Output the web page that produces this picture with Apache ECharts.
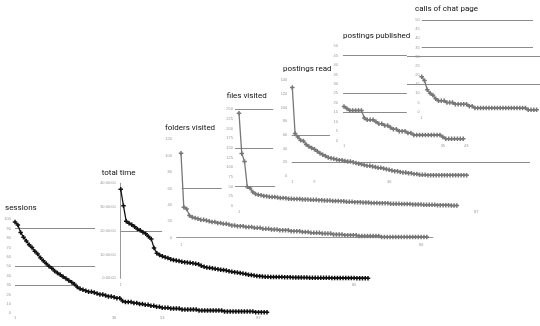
<!DOCTYPE html>
<html><head><meta charset="utf-8">
<script src="https://cdn.jsdelivr.net/npm/echarts@6/dist/echarts.min.js"></script>
<style>html,body{margin:0;padding:0;background:#fff}#c{width:540px;height:326px}</style>
</head><body><div id="c"></div>
<script>
// ---- data ----
const chartTitles = ['sessions','total time','folders visited','files visited','postings read','postings published','calls of chat page'];
const sessionsValues = [97,94,86,81,77,73,70,66,63,59,56,53,50,48,45,43,41,39,37,35,33,31,28,26,25,24,23,23,22,21,20,20,19,18,18,17,16,16,13,12,12,12,11,11,10,10,9,9,8,8,7,7,6,6,6,5,5,5,5,4,4,4,4,4,4,3,3,3,3,3,3,3,3,3,2,2,2,2,2,2,2,2,2,2,2,1,1,1,1,1];
const totalTimeValues = [37.5,30.5,24,23.2,22.5,21.7,20.8,20.2,19.4,18.8,17.6,16.5,12.8,10.6,9.8,9.3,8.9,8.5,8,7.7,7.5,7.3,7,6.8,6.7,6.5,6.3,6.1,5.9,5.3,4.9,4.6,4.4,4.2,4,3.8,3.6,3.5,3.3,3,2.8,2.6,2.4,2.2,2,1.8,1.5,1.4,1.2,1,0.9,0.8,0.7,0.7,0.6,0.6,0.5,0.5,0.5,0.45,0.42,0.4,0.38,0.36,0.34,0.32,0.3,0.29,0.27,0.26,0.24,0.23,0.21,0.2,0.19,0.18,0.16,0.15,0.14,0.13,0.12,0.11,0.1,0.09,0.08,0.07,0.06,0.05,0.04,0.03];
const foldersValues = [103,37,35,27,25,24,23,22,22,21,20,19,19,18,18,17,17,16,15,15,14,14,14,13,13,13,12,12,12,11,11,11,10,10,10,9,9,9,9,8,8,8,8,7,7,7,6,6,6,6,5,5,5,5,4,4,4,4,3,3,3,3,3,2,2,2,2,2,2,2,2,1,1,1,1,1,1,1,1,1,1,1,1,1,1,1,1,1];
const filesValues = [240,136,115,50,46,36,31,29,28,26,25,24,23,23,22,21,21,20,19,19,18,18,18,17,17,17,16,16,16,15,15,14,14,14,13,13,13,12,12,11,11,11,10,10,10,9,9,9,8,8,8,7,7,7,7,6,6,6,6,5,5,5,5,4,4,4,4,3,3,3,3,3,2,2,2,2,2,1,1,1];
const postingsReadValues = [129,62,57,52,51,46,43,41,39,36,33,31,29,27,26,25,24,23,23,22,21,21,20,19,18,17,16,15,15,14,13,12,12,11,10,9,8,7,7,6,5,5,4,4,3,3,2,2,2,1,1,1,1,1,1,1,1,1,1,1,1,1,1,1];
const postingsPublishedValues = [18,17,16,16,16,16,16,12,11,11,11,10,9,9,8,8,7,6,6,5,5,5,4,4,3,3,3,3,3,3,3,3,3,3,2,1,1,1,1,1,1,1];
const chatCallsValues = [19,17,12,10,9,7,6,6,6,5,5,5,4,4,4,4,4,3,3,2,2,2,2,2,2,2,2,2,2,2,2,2,2,2,2,2,2,2,1,1,1,1];
const yAxisMax = [100,40,120,250,140,50,50];
const yAxisStep = [10,10,20,25,20,5,5];
const gridlineValues = [[90,50,30],[20],[60],[250,150,50],[60,20],[45,25,15],[50,35,30,15]];
const xTickValues = [[1,36,53,87],[1,85],[1,86],[1,87],[1,9,36],[1,35,43],[1]];

const seriesValues = [sessionsValues,totalTimeValues,foldersValues,filesValues,postingsReadValues,postingsPublishedValues,chatCallsValues];

// ---- layout (positions / styles) ----
const layout = [
 {L:15, T:219.3, W:252, H:94, xMin:1, xMax:90, yOff:0, lm:4, xm:3, tx:5, ty:209, color:'#111', yLine:false, xLine:false, gx:[[1,29.3],[1,29.3],[1,22.9]]},
 {L:120.7, T:183.3, W:247.3, H:95, xMin:1, xMax:90, yOff:0, lm:5, xm:5, tx:101.7, ty:174, color:'#111', yLine:true, xLine:false, gx:[[1,15.9]], fmt:v=>v+':00:00'},
 {L:176.7, T:139.3, W:256.3, H:98.4, xMin:-0.52, xMax:90.2, yOff:-4.3, lm:9, xm:5, tx:165, ty:129, color:'#777', yLine:false, xLine:true, gx:[[1.25,15.4]]},
 {L:235, T:109.3, W:245, H:96.7, xMin:-0.45, xMax:88.4, yOff:-4, lm:6, xm:4, tx:226.7, ty:96.7, color:'#777', gx:[[-0.45,13.4],[-0.45,13.4],[-0.45,14.1]]},
 {L:291.7, T:80, W:238.3, H:96, xMin:0.78, xMax:86.9, yOff:-0.6, lm:5, xm:4, tx:283, ty:70, color:'#777', gx:[[0.78,14.6],[0.78,86.9]]},
 {L:343, T:46, W:124, H:94.7, xMin:0.66, xMax:43.3, yOff:-1, lm:6, xm:3, tx:343, ty:36.7, color:'#777', gx:[[0.66,22.6],[0.66,22.6],[0.66,22.6]]},
 {L:407, T:20, W:133, H:91.7, xMin:-4.24, xMax:43.2, yOff:-14.7, lm:2, xm:4, tx:415, ty:10, color:'#777', gx:[[1,40.7],[1,40.7],[-4.24,43.2],[-4.24,43.2]]}
];
const plusSymbol = 'path://M1,0H2V1H3V2H2V3H1V2H0V1H1Z';

const chart = echarts.init(document.getElementById('c'), null, {renderer:'canvas'});
const option = {
  animation:false,
  backgroundColor:'#fff',
  title: layout.map((p,k)=>({text:chartTitles[k], left:p.tx, top:p.ty-5, padding:0,
    textStyle:{fontSize:8, fontWeight:'normal', fontFamily:"'Liberation Sans Narrow', 'Roboto', sans-serif", color:'#111'}})),
  grid: layout.map(p=>({left:p.L, top:p.T, width:p.W, height:p.H, containLabel:false})),
  xAxis: layout.map((p,k)=>({type:'value', gridIndex:k, min:p.xMin, max:p.xMax,
    splitLine:{show:false}, axisTick:{show:false},
    axisLine:{show:!!p.xLine, onZero:false, lineStyle:{color:'#999', width:1}},
    axisLabel:{customValues:xTickValues[k], fontSize:4, color:'#999', margin:p.xm,
      formatter:v=>String(Math.round(v))}})),
  yAxis: layout.map((p,k)=>({type:'value', gridIndex:k, min:0, max:yAxisMax[k], interval:yAxisStep[k], offset:p.yOff,
    splitLine:{show:false}, axisTick:{show:false},
    axisLine:{show:!!p.yLine, onZero:false, lineStyle:{color:'#999', width:1}},
    axisLabel:{fontSize:4, color:'#999', margin:p.lm, formatter:p.fmt || (v=>String(v))}})),
  series: layout.map((p,k)=>({type:'line', xAxisIndex:k, yAxisIndex:k,
    data: seriesValues[k].map((v,i)=>[i+1,v]),
    symbol:plusSymbol, symbolSize:4.5, showSymbol:true,
    lineStyle:{width:1.3, color:p.color}, itemStyle:{color:p.color},
    z:2, silent:true,
    markLine:{silent:true, z:1, symbol:['none','none'], label:{show:false}, animation:false,
      lineStyle:{color:'#8c8c8c', width:1, type:'solid'},
      emphasis:{disabled:true},
      data: gridlineValues[k].map((y,j)=>[{coord:[p.gx[j][0], y]},{coord:[p.gx[j][1], y]}])}
  }))
};
chart.setOption(option);
</script>
</body></html>
